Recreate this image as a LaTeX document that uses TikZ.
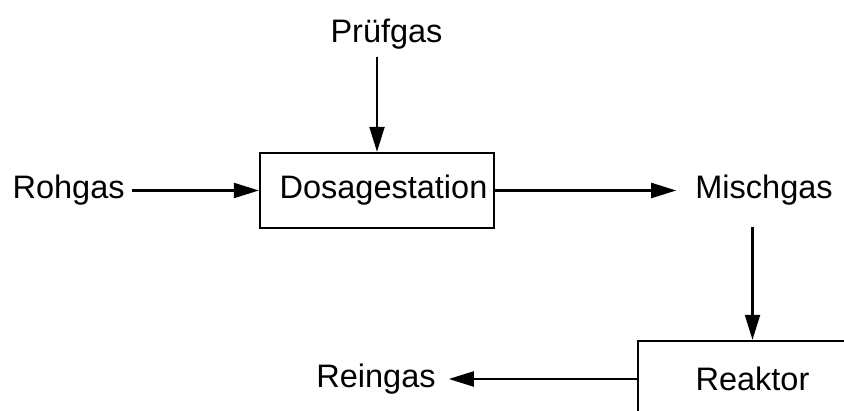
\documentclass[tikz,border=0pt]{standalone}
\usepackage{fontspec}
\setmainfont{Liberation Sans}
\usepackage{tikz}
\usetikzlibrary{arrows.meta,positioning}
\tikzset{
  gasbox/.style={draw,line width=2.4pt,minimum width=234pt,minimum height=75pt,inner sep=0pt,font=\fontsize{32.5}{39}\selectfont},
  gastext/.style={inner sep=7pt,font=\fontsize{32.5}{39}\selectfont},
  gasflow/.style={-{Triangle[length=25pt,width=15pt]},line width=2.2pt},
}

\begin{document}
\begin{tikzpicture}[x=1pt,y=-1pt]
\useasboundingbox (0,0) rectangle (844,411);
 % dosing stage
\node[gasbox] (dosage) at (377,190.5) {\hspace{13pt}Dosagestation};
\node[gastext,anchor=base] (pruef) at (386.5,43) {Prüfgas};
\node[gastext,left=127pt of dosage] (roh) {Rohgas};
\node[gastext,right=193pt of dosage] (misch) {Mischgas};
 % reactor, cut off by the page edge
\node[gasbox,minimum width=229pt,minimum height=76pt] (reaktor) at (752.5,379) {Reaktor};
\node[gastext,left=194pt of reaktor] (rein) {Reingas};
\draw[gasflow](pruef.south -| dosage.north)--(dosage.north);
\draw[gasflow](roh)--(dosage);
\draw[gasflow,shorten >=12pt](dosage)--(misch);
\draw[gasflow,shorten <=14pt](misch.south -| reaktor.north)--(reaktor.north);
\draw[gasflow,shorten >=6pt](reaktor)--(rein);
\end{tikzpicture}
\end{document}
